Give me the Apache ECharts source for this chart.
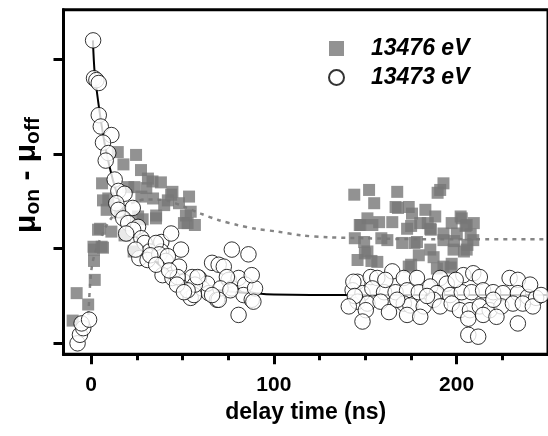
<!DOCTYPE html>
<html><head><meta charset="utf-8">
<script src="https://cdn.jsdelivr.net/npm/echarts@6/dist/echarts.min.js"></script>
<style>html,body{margin:0;padding:0;background:#fff}#c{width:548px;height:436px}</style>
</head><body><div id="c"></div>
<script>
// ---- data (delay time in ns, signal in arbitrary units; y ticks at 0..3) ----
const sq1X = [-10.1,-7.9,-1.6,2.0,1.6,1.6,6.5,3.8,11.1,1.3,4.9,8.5,9.4,6.5,6.0,14.6,24.6,17.7,27.3,33.6,38.2,23.7,44.5,53.6,48.1,27.5,33.9,35.6,51.9,52.8,54.5,56.8,23.3,28.2,35.5,50.8,5.8,30.2,40.0,18.3,15.6,31.1,42.0,25.7,20.3,43.8];
const sq1Y = [0.24,0.53,0.41,0.67,0.87,0.99,1.01,1.20,1.18,1.02,1.21,1.41,1.53,1.51,1.69,2.02,1.99,1.89,1.83,1.71,1.70,1.65,1.60,1.55,1.48,1.55,1.53,1.35,1.35,1.27,1.39,1.25,0.97,1.31,1.32,1.27,1.02,1.64,1.46,1.14,1.38,1.74,1.51,1.34,1.65,1.57];
const sq2X = [144.0,152.1,167.5,154.9,166.6,173.8,182.9,175.6,188.3,151.2,147.6,157.6,153.9,164.8,172.9,180.1,185.6,162.1,170.2,178.3,192.8,149.4,185.6,179.3,151.2,145.8,156.6,191.0,192.8,187.4,173.8,189.2,189.6,202.2,202.8,205.5,197.3,192.8,200.1,209.1,198.3,205.5,197.3,192.8,149.8,158.8,176.9,198.6,205.9,204.0,196.8,147.0,175.1,184.2,204.9,207.7,144.3,209.4,185.9,175.1,153.4,167.9];
const sq2Y = [1.57,1.62,1.60,1.48,1.44,1.44,1.41,1.37,1.34,1.32,1.25,1.28,1.25,1.28,1.21,1.27,1.21,1.09,1.06,1.07,1.09,1.07,0.99,0.93,0.97,0.88,0.86,1.62,1.69,0.91,0.81,0.79,1.59,1.34,1.32,1.25,1.27,1.16,1.16,1.09,0.99,0.99,0.84,0.81,0.95,1.11,1.06,1.08,1.04,0.97,0.80,1.25,1.24,1.27,1.24,1.15,1.11,1.27,1.20,0.83,0.87,1.43];

const ci1X = [-7.4,-6.1,-4.3,-5.2,-1.1,1.1,1.6,2.9,4.2,4.2,5.3,11.1,6.5,9.4,8.0,12.9,14.9,18.3,13.8,14.9,22.8,17.6,20.3,25.7,23.0,27.5,29.3,38.4,43.8,32.0,38.4,49.2,19.2,26.4,30.9,35.5,37.3,40.9,48.1,39.1,44.5,50.8,53.6,54.5,59.0,60.8,64.4,66.2,69.8,72.6,77.0,86.1,68.9,75.3,77.0,80.7,84.3,83.4,87.9,89.7,87.9,80.7,55.3,63.5,74.3,70.8,76.2,56.3,69.8,88.8,66.2,56.8,42.0,47.4,52.8,58.3,32.4,24.3,35.6,42.7,47.0,50.8];
const ci1Y = [0.00,0.09,0.16,0.21,0.25,3.20,2.80,2.78,2.75,2.41,2.29,2.20,2.12,2.01,1.93,1.73,1.61,1.58,1.48,1.41,1.43,1.32,1.27,1.23,1.20,1.11,1.06,1.07,1.16,0.97,0.97,0.99,1.16,0.90,0.88,1.06,0.94,0.87,0.81,0.72,0.69,0.65,0.55,0.48,0.69,0.58,0.53,0.85,0.83,0.81,0.99,0.94,0.46,0.67,0.58,0.69,0.62,0.51,0.46,0.58,0.72,0.30,0.70,0.63,0.70,0.58,0.56,0.51,0.46,0.44,0.51,0.62,0.92,0.70,0.56,0.70,0.93,0.99,0.83,0.77,0.62,0.54];
const ci2X = [145.8,153.0,156.6,164.8,171.1,178.3,191.0,194.6,203.7,209.1,212.7,229.0,233.5,143.1,148.5,153.9,160.3,166.6,172.9,179.3,185.6,189.2,196.4,202.8,208.2,214.5,220.0,225.4,233.5,239.0,243.5,145.8,151.2,158.4,163.0,171.1,174.7,182.0,187.4,191.0,197.3,201.8,207.3,212.7,218.1,224.5,230.8,236.2,241.7,150.3,172.9,180.1,206.4,214.5,221.8,148.5,206.4,211.8,233.5,143.5,144.3,161.0,183.8,199.5,220.1,240.2,246.2,141.0,167.5];
const ci2Y = [0.65,0.70,0.69,0.76,0.69,0.69,0.69,0.63,0.72,0.74,0.70,0.69,0.67,0.56,0.53,0.58,0.54,0.54,0.56,0.54,0.60,0.53,0.51,0.54,0.54,0.56,0.54,0.53,0.53,0.49,0.48,0.44,0.42,0.44,0.33,0.42,0.40,0.39,0.46,0.39,0.42,0.35,0.35,0.39,0.35,0.39,0.42,0.42,0.39,0.35,0.30,0.28,0.26,0.30,0.28,0.23,0.09,0.07,0.21,0.65,0.50,0.67,0.50,0.67,0.46,0.62,0.51,0.39,0.46];

const fitSqX = [-1.5,0,2,5,8,11,15,20,25,30,35,43,50,60,70,80,90,102,115,130,150,180,210,250];
const fitSqY = [0.30,0.75,0.95,1.10,1.23,1.32,1.40,1.46,1.50,1.52,1.52,1.50,1.45,1.37,1.30,1.25,1.21,1.18,1.14,1.12,1.11,1.10,1.10,1.10];
const fitCiX = [1,2,5,8,12,16,20,25,30,35,40,50,60,70,80,90,100,120,160,200,250];
const fitCiY = [3.20,2.85,2.40,2.05,1.72,1.48,1.30,1.12,0.98,0.87,0.79,0.67,0.60,0.56,0.54,0.525,0.515,0.51,0.51,0.51,0.51];

const majorTicks = [0,100,200];
const minorTicks = [25,50,75,125,150,175,225];
const yTicks = [0,1,2,3];
const seriesNames = ['13476 eV','13473 eV'];

const zip = (a,b) => a.map((v,i)=>[v,b[i]]);
const FONT = '"Liberation Sans", Arial, sans-serif';

const chart = echarts.init(document.getElementById('c'), null, {renderer:'canvas'});
chart.setOption({
  animation:false,
  backgroundColor:'#fff',
  grid:{left:63.5, top:9.7, width:488.5, height:344.6, show:true, borderColor:'#000', borderWidth:3, backgroundColor:'transparent'},
  legend:{
    data:seriesNames, orient:'vertical', left:323, top:32, padding:5, itemWidth:15, itemHeight:15, itemGap:6,
    textStyle:{fontFamily:FONT, fontSize:23, fontStyle:'italic', fontWeight:'bold', color:'#000', padding:[0,0,0,22], lineHeight:23}
  },
  xAxis:[{
    type:'value', min:-15.1, max:250, position:'bottom',
    axisLine:{show:true, onZero:false, lineStyle:{color:'#000', width:3}},
    axisTick:{show:true, customValues:majorTicks, length:10, lineStyle:{color:'#000', width:3}},
    axisLabel:{show:true, customValues:majorTicks, margin:20, fontFamily:FONT, fontSize:21, fontWeight:'bold', color:'#000'},
    splitLine:{show:false},
    name:'delay time (ns)', nameLocation:'middle', nameGap:47,
    nameTextStyle:{fontFamily:FONT, fontSize:23, fontWeight:'bold', color:'#000'}
  },{
    type:'value', min:-15.1, max:250, position:'bottom',
    axisLine:{show:false, onZero:false},
    axisTick:{show:true, customValues:minorTicks, length:6, lineStyle:{color:'#000', width:3}},
    axisLabel:{show:false}, splitLine:{show:false}
  }],
  yAxis:{
    type:'value', min:-0.116, max:3.524,
    axisLine:{show:true, onZero:false, lineStyle:{color:'#000', width:3}},
    axisTick:{show:true, customValues:yTicks, length:10, lineStyle:{color:'#000', width:3}},
    axisLabel:{show:false}, splitLine:{show:false},
    name:'{m|μ}{s|on}{m| - μ}{s|off}', nameLocation:'middle', nameRotate:90, nameGap:20,
    nameTextStyle:{
      color:'#000', padding:[0,0,0,14],
      rich:{
        m:{fontFamily:FONT, fontSize:30, fontWeight:'bold', color:'#000', lineHeight:34},
        s:{fontFamily:FONT, fontSize:21, fontWeight:'bold', color:'#000', verticalAlign:'bottom', lineHeight:34}
      }
    }
  },
  series:[
    {name:'fit 13476', type:'line', data:zip(fitSqX,fitSqY), smooth:0.3, showSymbol:false, symbol:'none',
     lineStyle:{color:'#858585', width:2.5, type:[4,5]}, z:1, silent:true},
    {name:seriesNames[0], type:'scatter', data:zip(sq1X,sq1Y).concat(zip(sq2X,sq2Y)), symbol:'rect', symbolSize:12,
     itemStyle:{color:'#777777'}, z:2},
    {name:'fit 13473', type:'line', data:zip(fitCiX,fitCiY), smooth:0.3, showSymbol:false, symbol:'none',
     lineStyle:{color:'#000', width:2}, z:3, silent:true},
    {name:seriesNames[1], type:'scatter', data:zip(ci1X,ci1Y).concat(zip(ci2X,ci2Y)), symbol:'circle', symbolSize:15.5,
     itemStyle:{color:'#ffffff', borderColor:'#000', borderWidth:1}, z:4}
  ]
});
</script></body></html>
